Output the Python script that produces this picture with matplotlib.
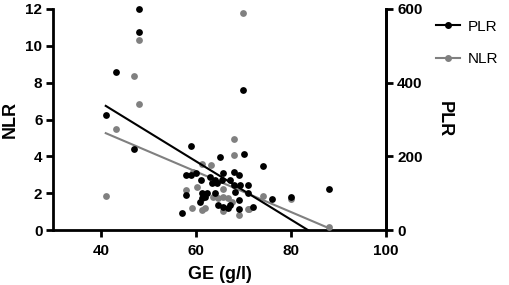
import matplotlib.pyplot as plt
import numpy as np

plt.rcParams['font.family'] = ['Liberation Sans', 'DejaVu Sans']

# GE (g/l) and NLR, grey points, left axis
ge_nlr = [41.0, 43.1, 47.0, 48.0, 48.0, 70.0, 68.1, 68.1, 63.1, 61.3, 59.4,
          60.2, 58.0, 65.7, 63.6, 64.7, 65.7, 66.8, 67.5, 65.7, 69.0, 71.2,
          61.9, 61.2, 59.1, 74.0, 79.9, 71.0, 88.0]
nlr = [1.85, 5.49, 8.35, 10.3, 6.83, 11.8, 4.96, 4.08, 3.53, 3.57, 3.17,
       2.32, 2.17, 2.21, 1.81, 1.72, 1.81, 1.72, 1.54, 1.05, 0.82, 1.12,
       1.18, 1.09, 1.18, 1.87, 1.67, 1.14, 0.15]

# GE (g/l) and PLR, black points, right axis
ge_plr = [48.0, 48.0, 43.1, 41.0, 47.0, 70.0, 59.0, 70.1, 74.0, 88.0, 79.9,
          76.0, 72.1, 65.1, 57.9, 58.9, 60.0, 61.1, 62.9, 64.0, 65.7, 67.9,
          69.0, 65.4, 67.2, 63.3, 64.4, 71.0, 67.9, 69.3, 58.0, 61.2, 62.3,
          64.0, 68.2, 71.0, 61.2, 61.9, 60.8, 64.7, 65.7, 66.8, 67.2, 69.0,
          69.1, 57.1]
plr = [600, 537, 430, 312, 220, 381, 227, 207, 175, 110, 90,
       84, 63, 198, 148, 150, 154, 136, 145, 136, 154, 158,
       150, 136, 136, 127, 127, 122, 122, 122, 95, 100, 100,
       101, 104, 100, 86, 90, 77, 68, 63, 59, 68, 81,
       56, 47]

# linear fits: (intercept, slope)
nlr_fit = (9.76, -0.1098)
plr_fit = (661.7, -7.92)

fig = plt.figure(figsize=(5.1, 2.85), dpi=100)
ax = fig.add_axes([53.5 / 510, 1 - 230 / 285, (386 - 53.5) / 510, (230 - 9) / 285])
ax2 = ax.twinx()

ax.scatter(ge_nlr, nlr, s=24, color='#808080', zorder=3, clip_on=False, linewidths=0)
xx = np.array([min(ge_nlr), max(ge_nlr)])
ax.plot(xx, nlr_fit[0] + nlr_fit[1] * xx, color='#808080', lw=1.5, zorder=2)

ax2.scatter(ge_plr, plr, s=24, color='black', zorder=3, clip_on=False, linewidths=0)
xb = np.array([min(ge_plr), -plr_fit[0] / plr_fit[1]])
ax2.plot(xb, plr_fit[0] + plr_fit[1] * xb, color='black', lw=1.5, zorder=2)

ax.set_xlim(30, 100)
ax.set_ylim(0, 12)
ax2.set_ylim(0, 600)
ax.set_xticks([40, 60, 80, 100])
ax.set_yticks(range(0, 13, 2))
ax2.set_yticks([0, 200, 400, 600])

for a in (ax, ax2):
    a.spines['top'].set_visible(False)
    for s in a.spines.values():
        s.set_linewidth(2)
    a.tick_params(width=2, length=5, labelsize=11, pad=3)
    for lab in a.get_xticklabels() + a.get_yticklabels():
        lab.set_fontweight('bold')
ax.tick_params(axis='x', pad=5)
ax2.spines['left'].set_visible(False)
ax2.spines['bottom'].set_visible(False)

ax.set_xlabel('GE (g/l)', fontsize=13, fontweight='bold', labelpad=6)
ax.set_ylabel('NLR', fontsize=13, fontweight='bold', labelpad=5)
ax2.set_ylabel('PLR', fontsize=13, fontweight='bold', rotation=-90, labelpad=22)

h1, = ax.plot([], [], color='black', marker='o', ms=4, lw=1.5, label='PLR')
h2, = ax.plot([], [], color='#808080', marker='o', ms=4, lw=1.5, label='NLR')
fig.legend(handles=[h1, h2], loc='upper left', bbox_to_anchor=(422 / 510, 1 - 6 / 285),
           frameon=False, fontsize=11, handlelength=1.6, handletextpad=0.5,
           labelspacing=1.2)

fig.savefig('out.png', dpi=100)
